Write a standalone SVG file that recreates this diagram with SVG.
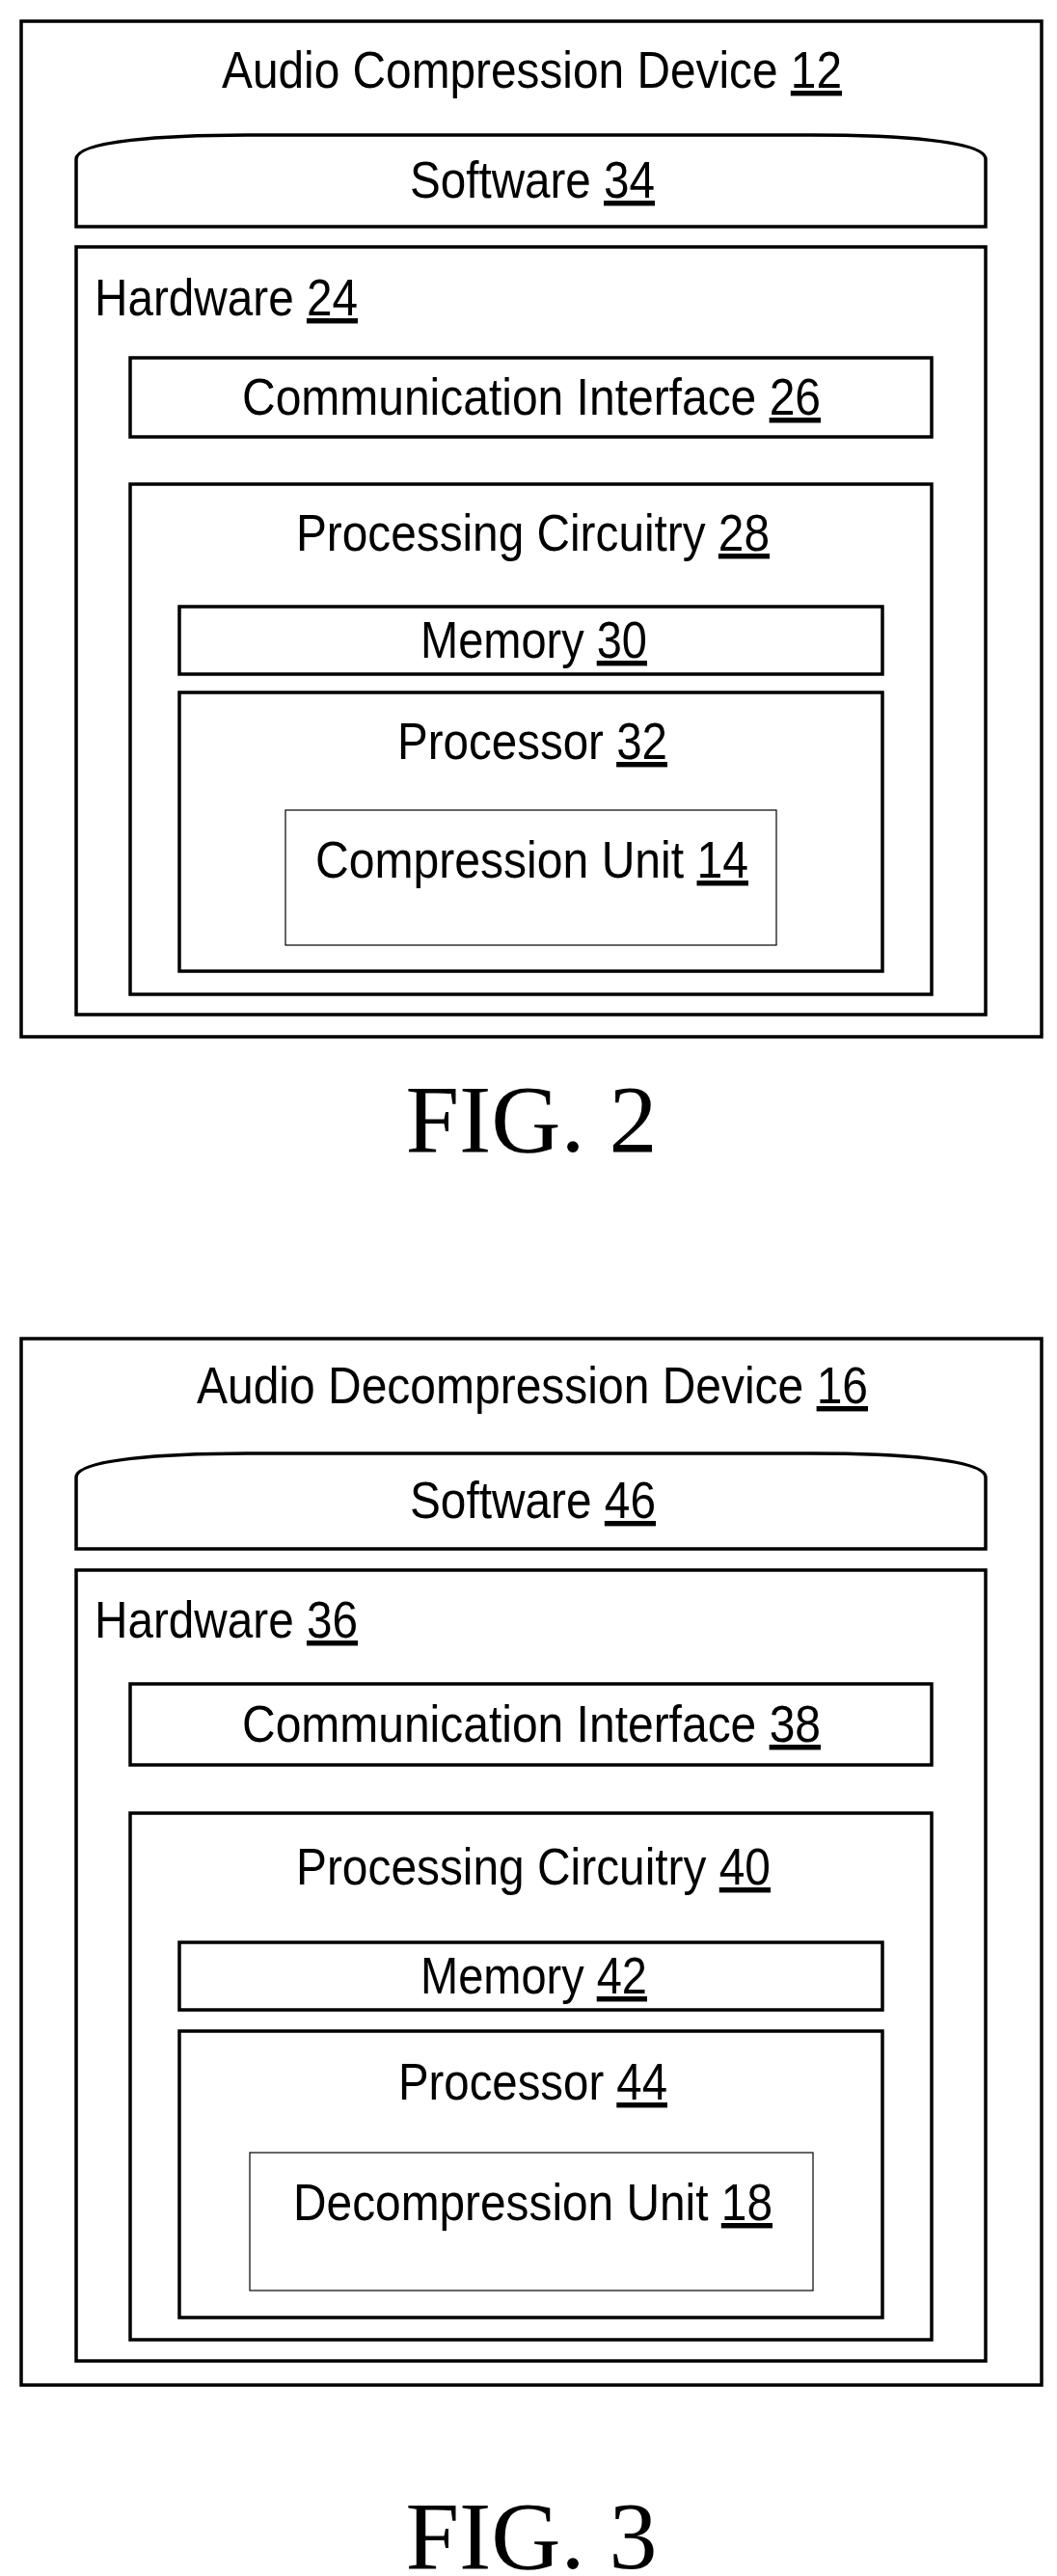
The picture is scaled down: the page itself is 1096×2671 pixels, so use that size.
<svg xmlns="http://www.w3.org/2000/svg" width="1096" height="2671" viewBox="0 0 1096 2671">
<style>
.b{fill:#fff;stroke:#000;stroke-width:3.5}
.t{fill:none;stroke:#000;stroke-width:1.2}
text{font-family:"Liberation Sans",Arial,sans-serif;font-size:54px;fill:#000}
.c{text-anchor:middle}
.f{font-family:"Liberation Serif","Times New Roman",serif;font-size:100px}
.u{text-decoration:underline}
</style>
<rect width="1096" height="2671" fill="#fff"/>
<g id="fig2">
<g id="dev12"><rect class="b" x="22" y="22" width="1058" height="1053"/><text x="230" y="91" textLength="643" lengthAdjust="spacingAndGlyphs">Audio Compression Device <tspan class="u">12</tspan></text></g>
<g id="sw34"><path class="b" d="M79,235 L79,165 C79,146 170,140 260,140 L840,140 C930,140 1022,146 1022,165 L1022,235 Z"/><text x="425" y="205" textLength="254" lengthAdjust="spacingAndGlyphs">Software <tspan class="u">34</tspan></text></g>
<g id="hw24"><rect class="b" x="79" y="256" width="943" height="796"/><text x="98" y="327" textLength="273" lengthAdjust="spacingAndGlyphs">Hardware <tspan class="u">24</tspan></text></g>
<g id="ci26"><rect class="b" x="135" y="371" width="831" height="82"/><text x="251" y="430" textLength="600" lengthAdjust="spacingAndGlyphs">Communication Interface <tspan class="u">26</tspan></text></g>
<g id="pc28"><rect class="b" x="135" y="502" width="831" height="529"/><text x="307" y="571" textLength="491" lengthAdjust="spacingAndGlyphs">Processing Circuitry <tspan class="u">28</tspan></text></g>
<g id="mem30"><rect class="b" x="186" y="629" width="729" height="70"/><text x="436" y="682" textLength="235" lengthAdjust="spacingAndGlyphs">Memory <tspan class="u">30</tspan></text></g>
<g id="proc32"><rect class="b" x="186" y="718" width="729" height="289"/><text x="412" y="787" textLength="280" lengthAdjust="spacingAndGlyphs">Processor <tspan class="u">32</tspan></text></g>
<g id="cu14"><rect class="t" x="296" y="840" width="509" height="140"/><text x="327" y="910" textLength="449" lengthAdjust="spacingAndGlyphs">Compression Unit <tspan class="u">14</tspan></text></g>
<text class="f c" x="551" y="1194">FIG. 2</text>
</g>
<g id="fig3">
<g id="dev16"><rect class="b" x="22" y="1388" width="1058" height="1085"/><text x="204" y="1455" textLength="696" lengthAdjust="spacingAndGlyphs">Audio Decompression Device <tspan class="u">16</tspan></text></g>
<g id="sw46"><path class="b" d="M79,1606 L79,1532 C79,1513 170,1507 260,1507 L840,1507 C930,1507 1022,1513 1022,1532 L1022,1606 Z"/><text x="425" y="1574" textLength="255" lengthAdjust="spacingAndGlyphs">Software <tspan class="u">46</tspan></text></g>
<g id="hw36"><rect class="b" x="79" y="1628" width="943" height="820"/><text x="98" y="1698" textLength="273" lengthAdjust="spacingAndGlyphs">Hardware <tspan class="u">36</tspan></text></g>
<g id="ci38"><rect class="b" x="135" y="1746" width="831" height="84"/><text x="251" y="1806" textLength="600" lengthAdjust="spacingAndGlyphs">Communication Interface <tspan class="u">38</tspan></text></g>
<g id="pc40"><rect class="b" x="135" y="1880" width="831" height="546"/><text x="307" y="1954" textLength="492" lengthAdjust="spacingAndGlyphs">Processing Circuitry <tspan class="u">40</tspan></text></g>
<g id="mem42"><rect class="b" x="186" y="2014" width="729" height="70"/><text x="436" y="2067" textLength="235" lengthAdjust="spacingAndGlyphs">Memory <tspan class="u">42</tspan></text></g>
<g id="proc44"><rect class="b" x="186" y="2106" width="729" height="297"/><text x="413" y="2177" textLength="279" lengthAdjust="spacingAndGlyphs">Processor <tspan class="u">44</tspan></text></g>
<g id="du18"><rect class="t" x="259" y="2232" width="584" height="143" stroke="#666"/><text x="304" y="2302" textLength="497" lengthAdjust="spacingAndGlyphs">Decompression Unit <tspan class="u">18</tspan></text></g>
<text class="f c" x="551" y="2663">FIG. 3</text>
</g>
<g id="connectors"/>
</svg>
